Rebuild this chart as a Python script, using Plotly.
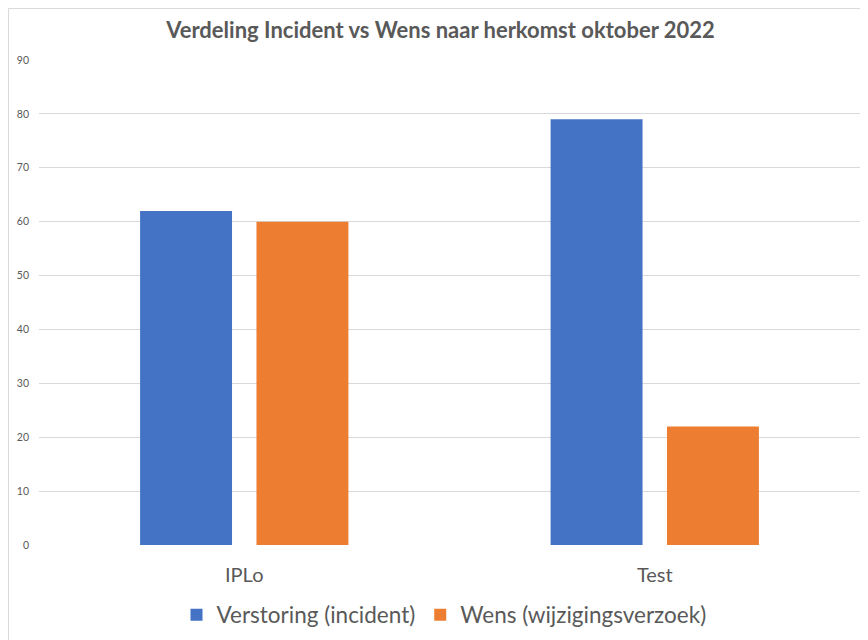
import plotly.graph_objects as go

categories = ["IPLo", "Test"]
series_names = ["Verstoring (incident)", "Wens (wijzigingsverzoek)"]
verstoring = [62, 79]
wens = [60, 22]
y_ticks = [0, 10, 20, 30, 40, 50, 60, 70, 80, 90]

FONT = "Lato, Calibri, Carlito, sans-serif"
GRAY = "#595959"

fig = go.Figure()
fig.add_trace(go.Bar(x=categories, y=verstoring, name=series_names[0],
                     marker=dict(color="#4472C4", line=dict(width=0))))
fig.add_trace(go.Bar(x=categories, y=wens, name=series_names[1],
                     marker=dict(color="#ED7D31", line=dict(width=0))))

# page has an 8px body margin: figure occupies page (8..868, 8..640)
OFF = 8
W, H = 860, 632
ml, mr, mt, mb = 39 - OFF, 8, 60 - OFF, 94.5
pw = W - ml - mr
ph = H - mt - mb

def px_x(x):  # page x -> paper
    return (x - OFF - ml) / pw

def px_y(y):  # page y -> paper
    return 1 - (y - OFF - mt) / ph

fig.update_layout(
    width=W, height=H,
    margin=dict(l=ml, r=mr, t=mt, b=mb, pad=0, autoexpand=False),
    paper_bgcolor="white", plot_bgcolor="white",
    barmode="group", bargap=0.433, bargroupgap=0.21,
    title=dict(text="<b>Verdeling Incident vs Wens naar herkomst oktober 2022</b>",
               x=px_x(440.5), xref="paper", xanchor="center", y=1 - (30.5 - OFF) / H, yanchor="middle",
               font=dict(family=FONT, size=22, color=GRAY)),
    font=dict(family=FONT, color=GRAY),
    showlegend=True,
    legend=dict(orientation="h", x=px_x(444), xanchor="center", xref="paper",
                yref="container", y=1 - (615 - OFF) / H, yanchor="middle",
                font=dict(family=FONT, size=22.5, color=GRAY),
                itemwidth=30, tracegroupgap=0),
    xaxis=dict(showgrid=False, showline=False, zeroline=False, ticks="",
               tickfont=dict(family=FONT, size=20, color=GRAY),
               ticklabelstandoff=16, automargin=False),
    yaxis=dict(range=[0, 90], tickvals=y_ticks, showgrid=True, gridcolor="#D9D9D9",
               gridwidth=1, zeroline=False, showline=False, ticks="",
               tickfont=dict(family=FONT, size=10.5, color=GRAY),
               ticklabelstandoff=9, automargin=False),
    shapes=[
        dict(type="line", xref="paper", yref="paper",
             x0=px_x(8.5), x1=px_x(880), y0=px_y(8.5), y1=px_y(8.5),
             line=dict(color="#D9D9D9", width=1)),
        dict(type="line", xref="paper", yref="paper",
             x0=px_x(8.5), x1=px_x(8.5), y0=px_y(8.5), y1=px_y(660),
             line=dict(color="#D9D9D9", width=1)),
    ],
)

fig.write_html("out.html")
